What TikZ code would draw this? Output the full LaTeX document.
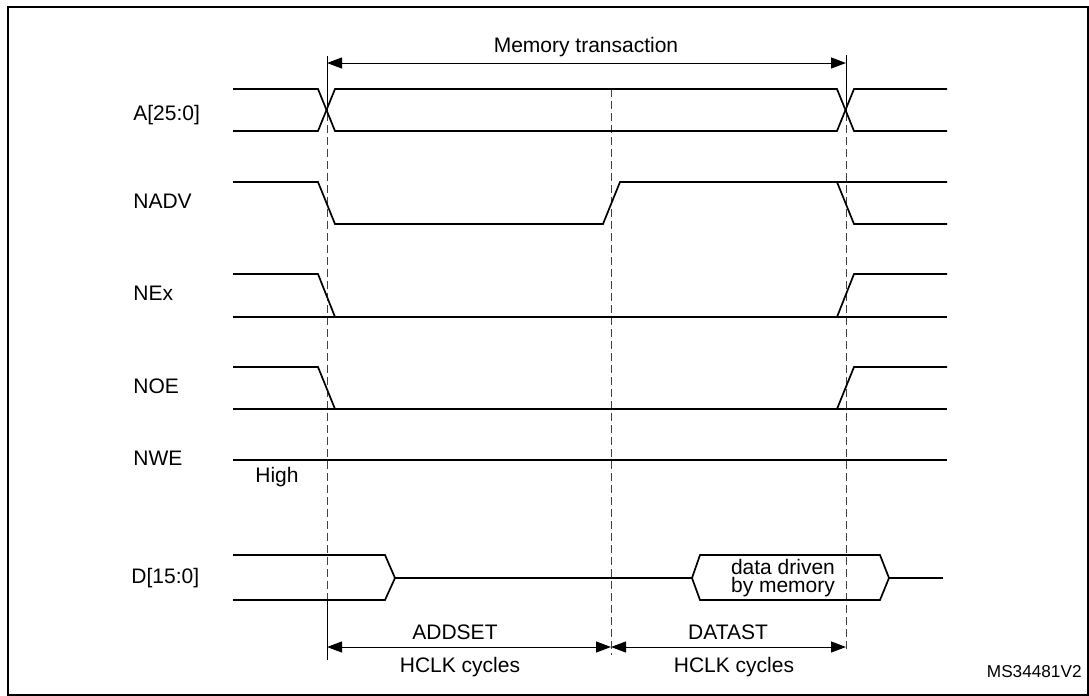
\documentclass[tikz,border=0pt]{standalone}
\usepackage{fontspec}
\setmainfont{Liberation Sans}
\usetikzlibrary{positioning,arrows.meta}

\begin{document}
\begin{tikzpicture}[
            x=0.5pt, y=-0.5pt,
            every node/.style={inner sep=0pt,font=\fontsize{10.5pt}{12pt}\selectfont},
            sig/.style={line width=0.85pt,line join=miter},
            guide/.style={line width=0.5pt,gray!50!black,dash pattern=on 4pt off 2pt},
            tick/.style={line width=0.5pt},
            dim/.style={line width=0.5pt,{Triangle[length=7.5pt,width=5.5pt]}-{Triangle[length=7.5pt,width=5.5pt]}},
            lbl/.style={anchor=base west},
            txt/.style={anchor=base}
        ]
  \useasboundingbox (0,0) rectangle (1089,696);
  \draw[line width=1.1pt] (8,7) rectangle (1088,695);
  % signal names
  \node[lbl] (nA) at (133,120) {A[25:0]};
  \node[lbl] (nADV) at (133,208) {NADV};
  \node[lbl] (nE) at (133,300) {NEx};
  \node[lbl] (nOE) at (133,393) {NOE};
  \node[lbl] (nWE) at (133,465) {NWE};
  \node[lbl] (high) at (255,482) {High};
  \node[lbl] (nD) at (131,583) {D[15:0]};
  % guides
  \draw[tick] (327,56) -- (327,113); \draw[tick] (846,55) -- (846,113);
  \draw[guide] (327,113) -- (327,600); \draw[tick] (327,600) -- (327,660);
  \draw[guide] (611,89) -- (611,655);
  \draw[guide] (846,113) -- (846,650);
  % waveforms
  \draw[sig] (233,89) -- (318,89) -- (335,131) -- (837,131) -- (854,89) -- (947,89);
  \draw[sig] (233,131) -- (318,131) -- (335,89) -- (837,89) -- (854,131) -- (947,131);
  \draw[sig] (233,182) -- (318,182) -- (335,224) -- (603,224) -- (620,182) -- (947,182);
  \draw[sig] (837,182) -- (854,224) -- (947,224);
  \draw[sig] (233,274) -- (318,274) -- (335,317); \draw[sig] (233,317) -- (947,317);
  \draw[sig] (837,317) -- (854,274) -- (947,274);
  \draw[sig] (233,367) -- (318,367) -- (335,409); \draw[sig] (233,409) -- (947,409);
  \draw[sig] (837,409) -- (854,367) -- (947,367);
  \draw[sig] (233,460) -- (947,460);
  \draw[sig] (233,555) -- (385,555) -- (395,578) -- (385,600) -- (233,600);
  \draw[sig] (395,578) -- (692,578);
  \draw[sig] (692,578) -- (700,555) -- (880,555) -- (889,578) -- (880,600) -- (700,600) -- cycle;
  \draw[sig] (889,578) -- (943,578);
  \node[txt] (data1) at (783,574) {data driven};
  \node[txt] (data2) at (783,592) {by memory};
  % dimensions
  \coordinate (m0) at (327,63); \coordinate (m1) at (846,63);
  \coordinate (b0) at (327,647); \coordinate (b1) at (611,647); \coordinate (b2) at (846,647);
  \draw[dim] (m0) -- (m1);
  \node[txt] (mem) at (586,53) {Memory transaction};
  \draw[dim] (b0) -- (b1);
  \draw[dim] (b1) -- (b2);
  \node[txt] (addset) at (455,639) {ADDSET};
  \node[txt] (hclk1) at (460,672) {HCLK cycles};
  \node[txt] (datast) at (728,639) {DATAST};
  \node[txt] (hclk2) at (734,672) {HCLK cycles};
  \node[anchor=base east,font=\fontsize{8.6pt}{10pt}\selectfont] (ref) at (1082,677) {MS34481V2};
\end{tikzpicture}
\end{document}
